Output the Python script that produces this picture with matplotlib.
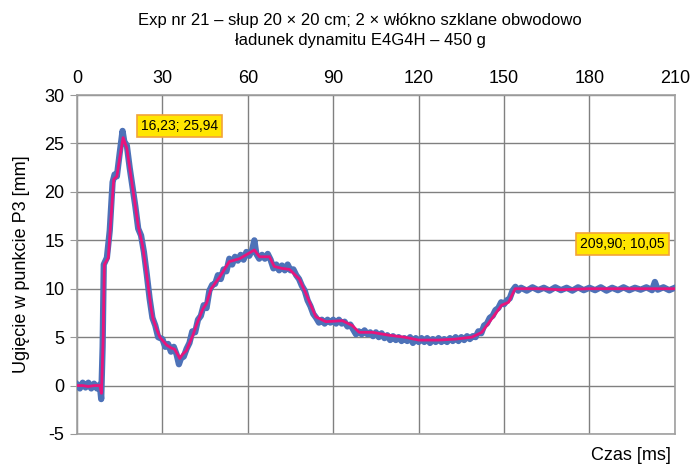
import matplotlib
matplotlib.use("Agg")
import matplotlib.pyplot as plt

plt.rcParams['font.family'] = ['Liberation Sans Narrow', 'Liberation Sans', 'DejaVu Sans']
plt.rcParams['axes.unicode_minus'] = False

# smoothed curve (magenta)
t_smooth = [0, 2, 4, 6, 8, 8.6, 9.2, 9.6, 11, 12, 12.9, 14, 15, 16.2, 17.5, 19, 20.5, 21.5,
            23, 24, 25, 26, 26.7, 28, 29.1, 31.4, 33, 34.3, 36.1, 37, 38.4, 40.7, 42, 44.2,
            45.5, 47.1, 50.1, 53.5, 57.1, 60, 62.3, 64.1, 67.6, 69.3, 72, 74.6, 78.1, 80.4,
            83.9, 87.4, 93.2, 96.7, 99.1, 103.7, 109.6, 115, 120, 127, 133, 138.7, 142.2,
            145.7, 149.2, 151.6, 153.9, 156, 162, 170, 180, 190, 200, 210]
v_smooth = [0, 0, -0.1, 0, 0, -0.8, 5, 12.5, 13.2, 17.5, 21.3, 21.6, 23.5, 25.6, 24.5, 21.5,
            18.5, 16.5, 14.5, 12.5, 10.3, 8, 6.9, 5.8, 5.0, 4.2, 3.9, 3.75, 2.8, 3.2, 3.6,
            5.2, 6.3, 7.9, 8.5, 10.0, 11.2, 12.8, 13.1, 13.6, 14.0, 13.3, 13.3, 12.3, 12.1,
            12.0, 11.0, 9.5, 7.1, 6.6, 6.7, 6.2, 5.5, 5.5, 5.2, 5.0, 4.7, 4.7, 4.8, 5.0, 5.5,
            6.9, 8.3, 8.6, 10.0, 10.0, 10.0, 9.9, 10.0, 10.0, 10.0, 10.0]

t_raw = [0, 1, 2, 3, 4, 5, 6, 7, 8, 8.5, 9.0, 9.4, 10.5, 11.5, 12.5, 13.2, 14, 15, 16, 16.6,
         17.5, 18.5, 19.5, 20.5, 21.5, 22.5, 23.5, 24.5, 25.5, 26.5, 27.5, 28.5, 30, 31, 32,
         33, 34, 35, 35.8, 36.5, 37.5, 38.5, 39.5, 40.5, 41.5, 42.5, 43.5, 44.5, 45.5, 46.5,
         47.5, 48.5, 49.5, 50.5, 51.5, 52.5, 53.5, 54.5, 55.5, 56.5, 57.5, 58.5, 59.5, 60.5,
         61.5, 62.3, 63, 64, 65, 66, 67, 68, 69, 70, 71, 72, 73, 74, 75, 76, 77, 78, 79, 80,
         81, 82, 83, 84, 85, 86, 87, 88, 89, 90, 91, 92, 93, 94, 95, 96, 97, 98, 99, 100,
         101, 102, 103, 104, 105, 106, 107, 108, 109, 110, 111, 112, 113, 114, 115, 116, 117,
         118, 119, 120, 121, 122, 123, 124, 125, 126, 127, 128, 129, 130, 131, 132, 133, 134,
         135, 136, 137, 138, 139, 140, 141, 142, 143, 144, 145, 146, 147, 148, 149, 150, 151,
         152, 153, 154, 155, 156, 158, 160, 162, 164, 166, 168, 170, 172, 174, 176, 178, 180,
         182, 184, 186, 188, 190, 192, 194, 196, 198, 200, 202, 203, 204, 206, 208, 210]
v_raw = [0.1, -0.3, 0.3, -0.2, 0.3, -0.3, 0.2, -0.3, 0.1, -1.4, 4, 12.5, 13.2, 16, 21.0,
         21.8, 21.6, 24, 26.3, 25.2, 24.8, 22.5, 20.5, 18.5, 16.2, 15.5, 13.8, 11.5, 9, 7,
         6.2, 5.0, 4.8, 4.0, 4.3, 3.5, 4.0, 3.2, 2.2, 2.8, 3.0, 3.8, 4.4, 5.6, 5.5, 6.8, 7.2,
         8.3, 8.0, 9.8, 10.4, 10.5, 11.4, 11.0, 12.0, 11.8, 13.1, 12.5, 13.3, 12.9, 13.5,
         13.0, 13.8, 13.4, 14.0, 15.0, 13.6, 13.1, 13.5, 13.1, 13.6, 13.0, 12.1, 12.5, 11.9,
         12.4, 11.9, 12.5, 11.9, 12.0, 11.4, 11.0, 10.3, 9.8, 8.8, 8.2, 7.4, 7.0, 6.5, 6.8,
         6.4, 6.8, 6.5, 6.8, 6.4, 6.8, 6.4, 6.6, 6.1, 6.3, 5.8, 5.3, 5.6, 5.3, 5.7, 5.3, 5.5,
         5.1, 5.5, 5.0, 5.4, 4.9, 5.2, 4.7, 5.1, 4.7, 5.0, 4.6, 4.9, 4.6, 5.0, 4.4, 4.9, 4.5,
         4.9, 4.5, 4.9, 4.4, 4.8, 4.5, 4.9, 4.5, 4.8, 4.5, 4.9, 4.6, 5.0, 4.6, 5.0, 4.7, 5.1,
         4.8, 5.1, 5.0, 5.6, 5.4, 6.2, 6.4, 7.0, 7.2, 7.8, 8.0, 8.6, 8.4, 8.8, 9.0, 9.8, 10.2,
         9.8, 10.1,
         9.8, 10.15, 9.85, 10.1, 9.8, 10.15, 9.85, 10.1, 9.8, 10.15, 9.85, 10.1, 9.85, 10.15,
         9.8, 10.1, 9.85, 10.15, 9.85, 10.1, 9.9, 10.15, 9.85,
         10.7, 9.9, 10.15, 9.85, 10.1]

x_ticks = [0, 30, 60, 90, 120, 150, 180, 210]
y_ticks = [-5, 0, 5, 10, 15, 20, 25, 30]
peak_label = "16,23; 25,94"
end_label = "209,90; 10,05"

fig = plt.figure(figsize=(6.9, 4.66), dpi=100)
ax = fig.add_axes([0.1116, 0.0687, 0.8664, 0.7273])

ax.plot(t_raw, v_raw, color='#4d72b8', lw=4.5, solid_joinstyle='round', zorder=3)
ax.plot(t_smooth, v_smooth, color='#e8147c', lw=2.0, zorder=4)

ax.set_xlim(0, 210)
ax.set_ylim(-5, 30)
ax.set_xticks(x_ticks)
ax.set_yticks(y_ticks)
ax.xaxis.tick_top()
ax.tick_params(axis='x', length=0, labelsize=13, pad=6)
ax.tick_params(axis='y', length=5, color='#999999', labelsize=13, pad=4, direction='out')
ax.grid(True, color='#808080', lw=1.0, zorder=1)
for s in ax.spines.values():
    s.set_color('#a0a0a0')
    s.set_linewidth(1.2)

ax.set_ylabel("Ugięcie w punkcie P3 [mm]", fontsize=13, labelpad=10)

box = dict(boxstyle='square,pad=0.3', facecolor='#ffe600', edgecolor='#f2a33a', lw=1.2)
ax.text(36, 26.8, peak_label, fontsize=10, ha='center', va='center', bbox=box, zorder=5)
ax.text(191.5, 14.6, end_label, fontsize=10, ha='center', va='center', bbox=box, zorder=5)

fig.text(0.522, 0.957, "Exp nr 21 – słup 20 × 20 cm; 2 × włókno szklane obwodowo",
         ha='center', va='center', fontsize=12)
fig.text(0.522, 0.913, "ładunek dynamitu E4G4H – 450 g", ha='center', va='center', fontsize=12)
fig.text(0.915, 0.023, "Czas [ms]", ha='center', va='center', fontsize=13)

fig.savefig("out.png", dpi=100)
